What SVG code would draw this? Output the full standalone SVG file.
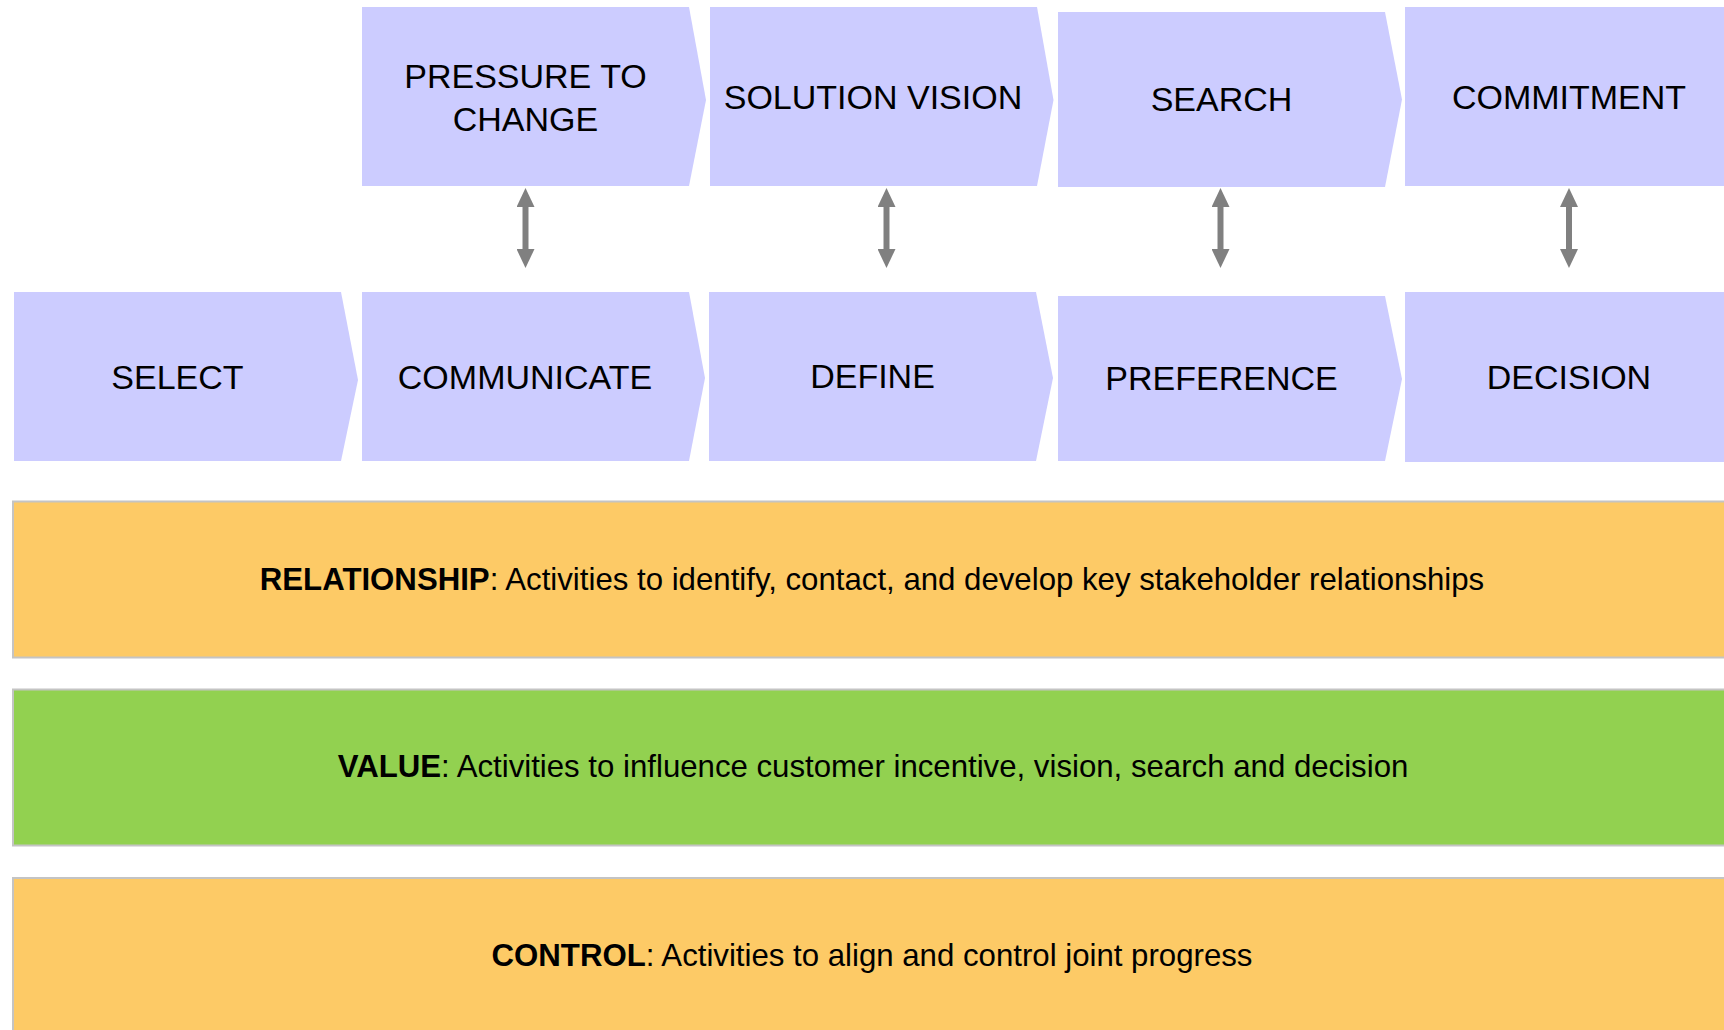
<svg xmlns="http://www.w3.org/2000/svg" width="1724" height="1030" viewBox="0 0 1724 1030">
  <style>
    .step { fill: #ccccff; }
    .lbl { font-family: "Liberation Sans", Arial, sans-serif; font-size: 34px; fill: #000; text-anchor: middle; }
    .band { stroke: #c4c4c4; stroke-width: 2; }
    .orange { fill: #fdca66; }
    .green { fill: #92d150; }
    .btxt { font-family: "Liberation Sans", Arial, sans-serif; font-size: 31.2px; fill: #000; text-anchor: middle; }
    .b { font-weight: bold; }
    .link { stroke: #808080; stroke-width: 6; fill: none; }
  </style>
  <defs>
    <marker id="head" viewBox="0 0 19 18" markerWidth="19" markerHeight="18" markerUnits="userSpaceOnUse" refX="1" refY="9" orient="auto-start-reverse">
      <path d="M0,0 L19,9 L0,18 Z" fill="#808080"/>
    </marker>
  </defs>
  <rect width="1724" height="1030" fill="#ffffff"/>

  <!-- upper row of steps -->
  <g id="pressure">
    <polygon class="step" points="362,7 689,7 706,100 689,186 362,186"/>
    <text class="lbl" x="525.5" y="88">PRESSURE TO</text>
    <text class="lbl" x="525.5" y="130.5">CHANGE</text>
  </g>
  <g id="solution-vision">
    <polygon class="step" points="710,7 1037,7 1053.5,100 1037,186 710,186"/>
    <text class="lbl" x="873" y="109">SOLUTION VISION</text>
  </g>
  <g id="search">
    <polygon class="step" points="1058,12 1385,12 1402,99.5 1385,187 1058,187"/>
    <text class="lbl" x="1221.5" y="110.5">SEARCH</text>
  </g>
  <g id="commitment">
    <rect class="step" x="1405" y="7" width="330" height="179"/>
    <text class="lbl" x="1569" y="108.5">COMMITMENT</text>
  </g>

  <!-- lower row of steps -->
  <g id="select">
    <polygon class="step" points="14,292 341,292 358,380 341,461 14,461"/>
    <text class="lbl" x="177.5" y="389">SELECT</text>
  </g>
  <g id="communicate">
    <polygon class="step" points="362,292 689,292 705,378 689,461 362,461"/>
    <text class="lbl" x="525" y="389">COMMUNICATE</text>
  </g>
  <g id="define">
    <polygon class="step" points="709,292 1036,292 1053,378 1036,461 709,461"/>
    <text class="lbl" x="872.5" y="388">DEFINE</text>
  </g>
  <g id="preference">
    <polygon class="step" points="1058,296 1385,296 1402,379 1385,461 1058,461"/>
    <text class="lbl" x="1221.5" y="389.5">PREFERENCE</text>
  </g>
  <g id="decision">
    <rect class="step" x="1405" y="292" width="330" height="170"/>
    <text class="lbl" x="1569" y="388.5">DECISION</text>
  </g>

  <!-- two-way links between the rows -->
  <g id="connectors">
    <line class="link" x1="525.5" y1="206" x2="525.5" y2="250" marker-start="url(#head)" marker-end="url(#head)"/>
    <line class="link" x1="886.5" y1="206" x2="886.5" y2="250" marker-start="url(#head)" marker-end="url(#head)"/>
    <line class="link" x1="1220.5" y1="206" x2="1220.5" y2="250" marker-start="url(#head)" marker-end="url(#head)"/>
    <line class="link" x1="1569" y1="206" x2="1569" y2="250" marker-start="url(#head)" marker-end="url(#head)"/>
  </g>

  <!-- activity bands -->
  <g id="relationship">
    <rect class="band orange" x="13" y="501.5" width="1718" height="156"/>
    <text class="btxt" x="872" y="590"><tspan class="b">RELATIONSHIP</tspan>: Activities to identify, contact, and develop key stakeholder relationships</text>
  </g>
  <g id="value">
    <rect class="band green" x="13" y="689.5" width="1718" height="156"/>
    <text class="btxt" x="873" y="777"><tspan class="b">VALUE</tspan>: Activities to influence customer incentive, vision, search and decision</text>
  </g>
  <g id="control">
    <rect class="band orange" x="13" y="878" width="1718" height="160"/>
    <text class="btxt" x="872" y="966"><tspan class="b">CONTROL</tspan>: Activities to align and control joint progress</text>
  </g>
</svg>
